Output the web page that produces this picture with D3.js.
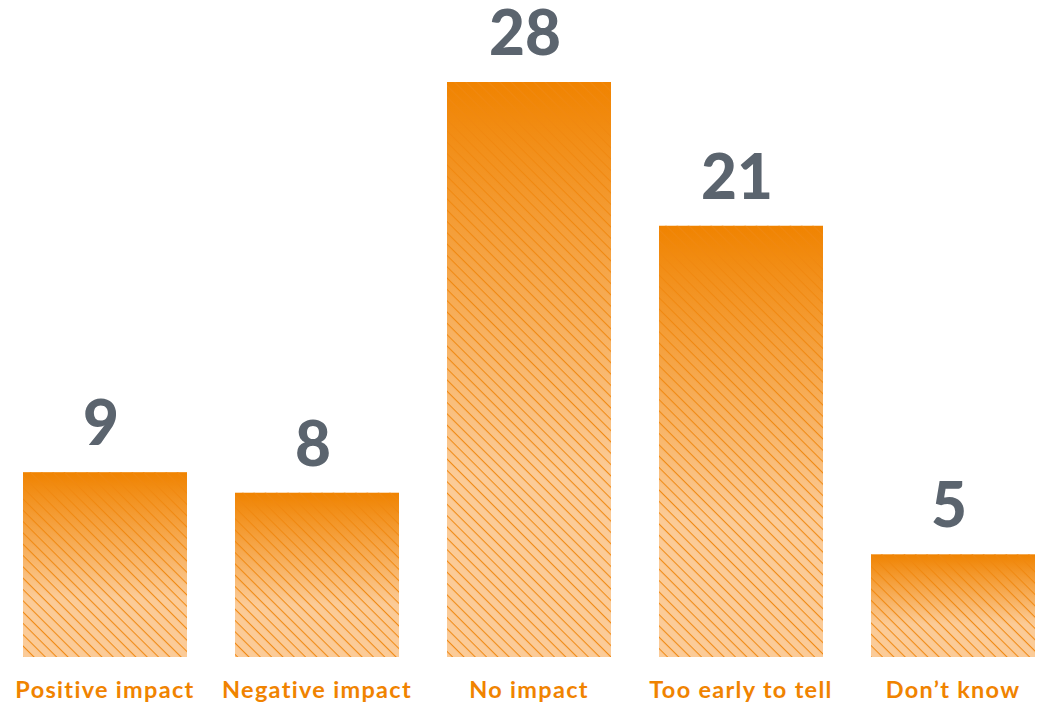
<!DOCTYPE html>
<html><head><meta charset="utf-8">
<script src="https://cdn.jsdelivr.net/npm/d3@7"></script>
<style>body{margin:0;background:#fff}svg{display:block}</style>
</head><body>
<script>
const categories = ["Positive impact","Negative impact","No impact","Too early to tell","Don\u2019t know"];
const values = [9, 8, 28, 21, 5];

const W = 1044, H = 704;
const svg = d3.select("body").append("svg").attr("width", W).attr("height", H);
const defs = svg.append("defs");
const grad = defs.append("linearGradient").attr("id","g").attr("x1",0).attr("y1",0).attr("x2",0).attr("y2",1);
grad.append("stop").attr("offset","0%").attr("stop-color","#f08300");
grad.append("stop").attr("offset","68%").attr("stop-color","#fbcb97");
grad.append("stop").attr("offset","100%").attr("stop-color","#fbcb98");
const pat = defs.append("pattern").attr("id","p").attr("patternUnits","userSpaceOnUse")
  .attr("width",8).attr("height",8).attr("patternTransform","rotate(45)");
pat.append("rect").attr("x",0).attr("y",0).attr("width",8).attr("height",1.1).attr("fill","#f08810");

const baseY = 657;
const x = d3.scaleBand().domain(categories).range([23, 1035]).paddingInner(48/212).paddingOuter(0);
const y = d3.scaleLinear().domain([0, 28]).range([baseY, 82]);

const g = svg.append("g");
const bars = g.selectAll("g.bar").data(categories).join("g");
bars.append("rect").attr("x", d=>x(d)).attr("width", x.bandwidth())
  .attr("y", (d,i)=>y(values[i])).attr("height", (d,i)=>baseY - y(values[i]))
  .attr("fill","url(#g)");
bars.append("rect").attr("x", d=>x(d)).attr("width", x.bandwidth())
  .attr("y", (d,i)=>y(values[i])).attr("height", (d,i)=>baseY - y(values[i]))
  .attr("fill","url(#p)").attr("opacity",0.95);
bars.append("text").attr("x", d=>x(d)+x.bandwidth()/2 - 4).attr("y",(d,i)=>y(values[i]) - 27)
  .attr("text-anchor","middle").attr("font-family","Lato, sans-serif").attr("font-weight",900)
  .attr("font-size",62).attr("fill","#5b646e").text((d,i)=>values[i]);

const axis = d3.axisBottom(x).tickSize(0).tickPadding(0);
const ax = svg.append("g").attr("transform",`translate(0,${baseY})`).call(axis);
ax.select(".domain").remove();
ax.selectAll("text").attr("dy",null).attr("y",41).attr("font-family","Lato, sans-serif")
  .attr("font-weight",700).attr("font-size",23.5).attr("fill","#f08300").attr("letter-spacing",1.3);
</script>
</body></html>
